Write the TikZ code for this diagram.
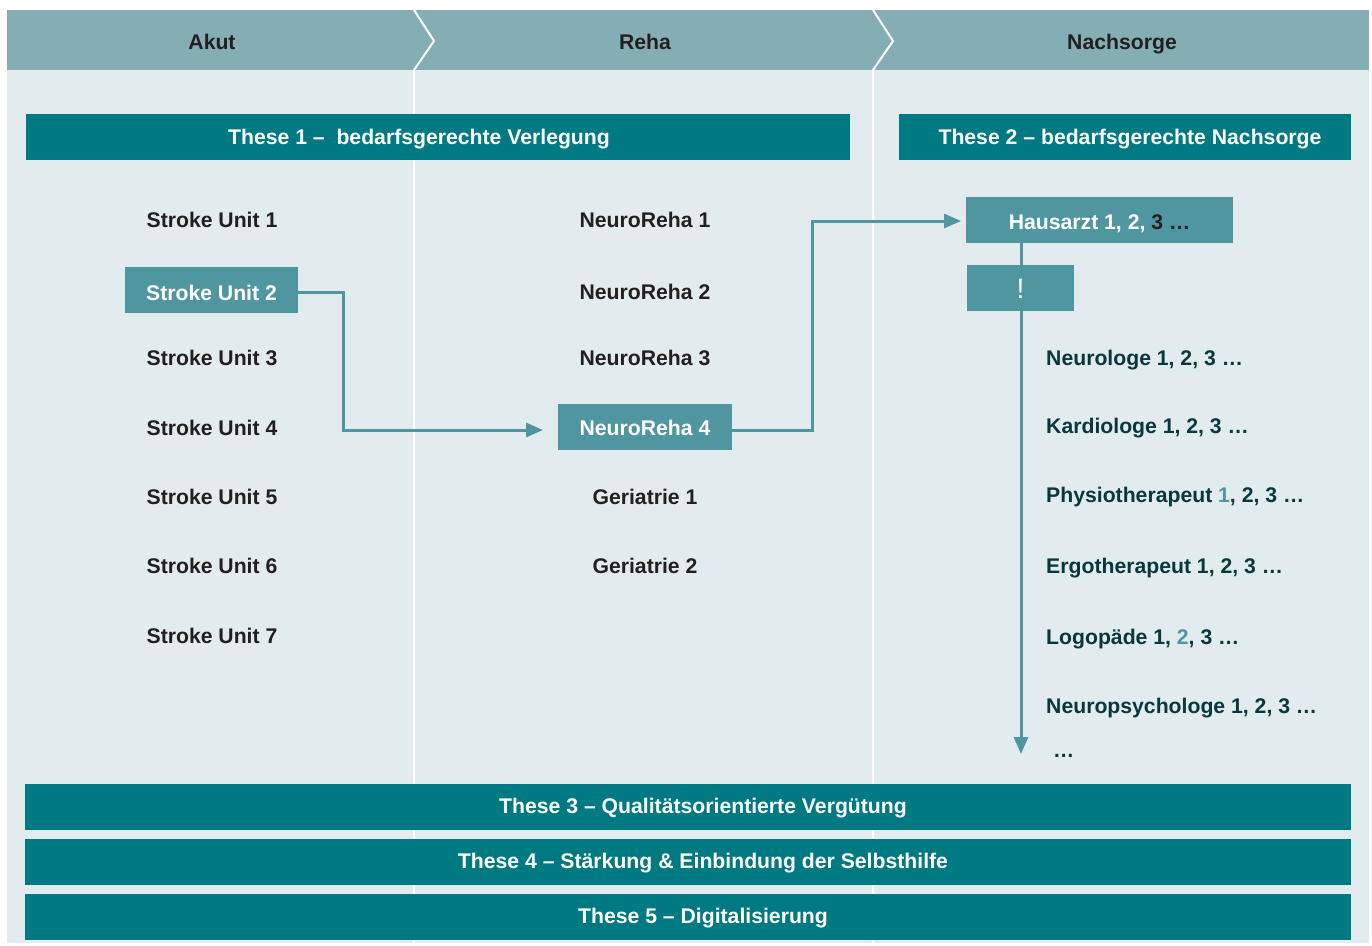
\documentclass[tikz,border=0pt]{standalone}
\usepackage{fontspec}
\setmainfont{Liberation Sans}
\usetikzlibrary{arrows.meta}
\definecolor{bg}{HTML}{E2EBEE}
\definecolor{hdr}{HTML}{84AEB4}
\definecolor{dteal}{HTML}{007A82}
\definecolor{mteal}{HTML}{5096A0}
\definecolor{txt}{HTML}{231F20}
\definecolor{ntxt}{HTML}{0A373C}
\begin{document}
\begin{tikzpicture}[x=1pt,y=-1pt,
  lbl/.style={font=\fontsize{21.2}{24}\selectfont\bfseries, inner sep=0pt, anchor=base, text=txt},
  nlbl/.style={lbl, anchor=base west, text=ntxt},
  wlbl/.style={lbl, text=white},
  bar/.style={fill=dteal, inner sep=0pt, minimum height=46pt},
  hbox/.style={fill=mteal, inner sep=0pt, minimum height=46pt, text=white,
    font=\fontsize{21.2}{24}\selectfont\bfseries, text height=20pt, text depth=0pt},
  conn/.style={draw=mteal, line width=3pt, -{Triangle[length=17pt,width=14pt]}},
  sep/.style={draw=white, line width=2pt}
]
\useasboundingbox (0,0) rectangle (1372,945);
\fill[white] (0,0) rectangle (1372,945);
\fill[bg] (7,10) rectangle (1369,943);
\fill[hdr] (7,10) rectangle (1369,70);
\draw[sep] (414,10) -- (434,41) -- (414,70) -- (414,943);
\draw[sep] (873,10) -- (893,41) -- (873,70) -- (873,943);

% headers
\node[lbl] (akut) at (212,49) {Akut};
\node[lbl] (reha) at (645,49) {Reha};
\node[lbl] (nach) at (1122,49) {Nachsorge};

% thesis bars
\node[bar, minimum width=824pt] (t1bar) at (438,137) {};
\node[wlbl] (t1) at (419,144) {These 1 –\ \ bedarfsgerechte Verlegung};
\node[bar, minimum width=452pt] (t2bar) at (1125,137) {};
\node[wlbl] (t2) at (1130,144) {These 2 – bedarfsgerechte Nachsorge};
\node[bar, minimum width=1326pt] (t3bar) at (688,807) {};
\node[wlbl] (t3) at (703,813.5) {These 3 – Qualitätsorientierte Vergütung};
\node[bar, minimum width=1326pt] (t4bar) at (688,862) {};
\node[wlbl] (t4) at (703,868.5) {These 4 – Stärkung \& Einbindung der Selbsthilfe};
\node[bar, minimum width=1326pt] (t5bar) at (688,917) {};
\node[wlbl] (t5) at (703,923.5) {These 5 – Digitalisierung};

% connectors (drawn below boxes)
\coordinate (c1) at (298,292);
\coordinate (a1) at (543,430);
\coordinate (a2) at (961,221);
\coordinate (v0) at (1021,243);
\coordinate (v1) at (1021,754);
\draw[conn] (v0) -- (v1);

% Akut column
\node[lbl] (su1) at (212,227.5) {Stroke Unit 1};
\node[hbox, minimum width=173pt] (su2) at (211.5,290) {Stroke Unit 2};
\node[lbl] (su3) at (212,365.5) {Stroke Unit 3};
\node[lbl] (su4) at (212,435.5) {Stroke Unit 4};
\node[lbl] (su5) at (212,504.5) {Stroke Unit 5};
\node[lbl] (su6) at (212,573.5) {Stroke Unit 6};
\node[lbl] (su7) at (212,643.5) {Stroke Unit 7};

% Reha column
\node[lbl] (nr1) at (645,227.5) {NeuroReha 1};
\node[lbl] (nr2) at (645,299.5) {NeuroReha 2};
\node[lbl] (nr3) at (645,365.5) {NeuroReha 3};
\node[hbox, minimum width=174pt, text height=17pt] (nr4) at (645,427) {NeuroReha 4};
\node[lbl] (ge1) at (645,504.5) {Geriatrie 1};
\node[lbl] (ge2) at (645,573.5) {Geriatrie 2};

% Nachsorge column
\node[hbox, minimum width=267pt, text height=18pt] (ha) at (1099.5,220) {Hausarzt 1, 2, \textcolor{txt}{3 …}};
\node[fill=mteal, inner sep=0pt, minimum width=107pt, minimum height=46pt, text=white,
  font=\fontsize{28}{30}\selectfont, text height=21pt, text depth=0pt] (ex) at (1020.5,288) {!};
\node[nlbl] (neu) at (1046,365.5) {Neurologe 1, 2, 3 …};
\node[nlbl] (kar) at (1046,433.5) {Kardiologe 1, 2, 3 …};
\node[nlbl] (phy) at (1046,502) {Physiotherapeut \textcolor{mteal}{1}, 2, 3 …};
\node[nlbl] (erg) at (1046,573) {Ergotherapeut 1, 2, 3 …};
\node[nlbl] (log) at (1046,644) {Logopäde 1, \textcolor{mteal}{2}, 3 …};
\node[nlbl] (nps) at (1046,713) {Neuropsychologe 1, 2, 3 …};
\node[nlbl] (dots) at (1053,757) {…};

\draw[conn] (su2.east |- c1) -| (343,430) -- (a1);
\draw[conn] (nr4.east |- a1) -| (812,221) -- (a2);
\end{tikzpicture}
\end{document}
